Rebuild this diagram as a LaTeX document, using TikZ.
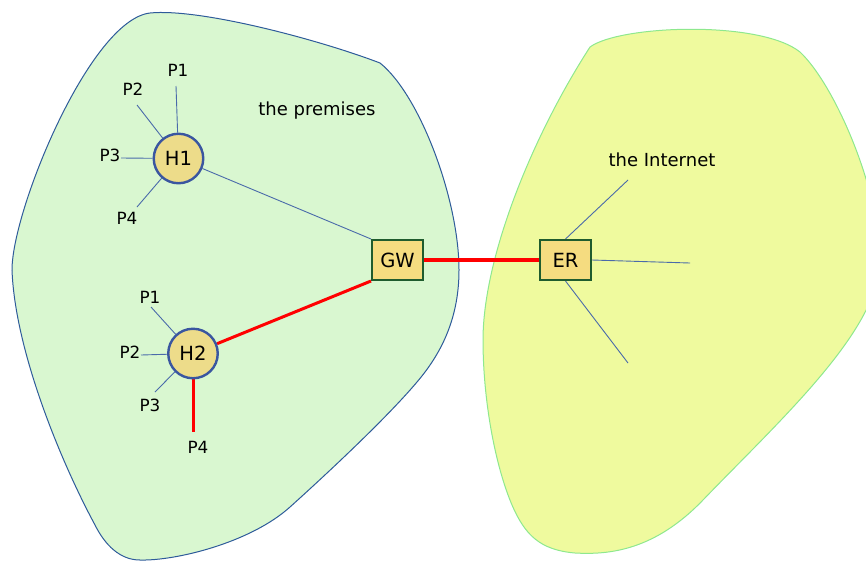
\documentclass[tikz,border=0pt]{standalone}
\usepackage{fontspec}
\setmainfont{DejaVu Sans}
\definecolor{premfill}{HTML}{D9F7D0}
\definecolor{premline}{HTML}{2E5B9A}
\definecolor{netfill}{HTML}{EFFA9E}
\definecolor{netline}{HTML}{8EE88E}
\definecolor{hostfill}{HTML}{EDDC8A}
\definecolor{hostline}{HTML}{3A56A0}
\definecolor{boxfill}{HTML}{F5DC80}
\definecolor{boxline}{HTML}{1F5C2E}
\definecolor{thin}{HTML}{4A6AAA}
\pgfdeclarelayer{blobs}
\pgfdeclarelayer{edges}
\pgfsetlayers{blobs,edges,main}
\tikzset{
  host/.style={circle, draw=hostline, line width=2.4pt, fill=hostfill, minimum size=49.5pt, inner sep=0pt, font=\fontsize{19.5}{22}\selectfont},
  router/.style={rectangle, draw=boxline, line width=2pt, fill=boxfill, minimum width=51pt, minimum height=40pt, inner sep=0pt, font=\fontsize{19.5}{22}\selectfont},
  plabel/.style={inner sep=0pt, font=\fontsize{16.8}{19}\selectfont},
  area/.style={inner sep=0pt, font=\fontsize{18}{21}\selectfont},
  thinline/.style={draw=thin, line width=0.9pt},
  redline/.style={draw=red, line width=3pt},
}
\begin{document}
\begin{tikzpicture}[x=1pt,y=-1pt]
\useasboundingbox (0,0) rectangle (866,560);
\begin{pgfonlayer}{blobs}
% premises blob
\filldraw[fill=premfill, draw=premline, line width=1pt]
  (12,270) .. controls (12,210) and (90,20) .. (150,13)
  .. controls (200,8) and (320,40) .. (380,63)
  .. controls (420,95) and (459,200) .. (459,270)
  .. controls (459,320) and (440,355) .. (417,382)
  .. controls (385,420) and (320,480) .. (290,507)
  .. controls (250,543) and (175,561) .. (140,560)
  .. controls (120,560) and (105,545) .. (95,525)
  .. controls (60,460) and (15,350) .. (12,270) -- cycle;
% internet blob
\filldraw[fill=netfill, draw=netline, line width=1pt]
  (590,47) .. controls (620,25) and (760,20) .. (800,52)
  .. controls (835,85) and (880,190) .. (880,260)
  .. controls (880,330) and (780,420) .. (703,500)
  .. controls (655,550) and (610,555) .. (575,553)
  .. controls (540,550) and (525,535) .. (512,505)
  .. controls (495,465) and (483,400) .. (483,340)
  .. controls (483,260) and (530,140) .. (590,47) -- cycle;
\end{pgfonlayer}
% nodes
\node[host] (h1) at (178.5,158.5) {H1};
\node[host] (h2) at (193,353.5) {H2};
\node[router] (gw) at (397.5,260) {GW};
\node[router] (er) at (565.5,260) {ER};
\node[area] (prem) at (317,111) {the premises};
\node[area] (inet) at (662,160) {the Internet};
% H1 ports
\node[plabel] (h1p1l) at (178,70) {P1};
\node[plabel] (h1p2l) at (133,89) {P2};
\node[plabel] (h1p3l) at (110,155) {P3};
\node[plabel] (h1p4l) at (127,218) {P4};
\coordinate (h1p1) at (176,86);
\coordinate (h1p2) at (137,105);
\coordinate (h1p3) at (121,158);
\coordinate (h1p4) at (137,207);
% H2 ports
\node[plabel] (h2p1l) at (150,297) {P1};
\node[plabel] (h2p2l) at (130,352) {P2};
\node[plabel] (h2p3l) at (150,405) {P3};
\node[plabel] (h2p4l) at (198,447) {P4};
\coordinate (h2p1) at (151,307);
\coordinate (h2p2) at (141,355);
\coordinate (h2p3) at (155,392);
\coordinate (h2p4) at (193,432);
% ER free ends
\coordinate (e1) at (628,180);
\coordinate (e2) at (690,263);
\coordinate (e3) at (628,363);
% connectors
\begin{pgfonlayer}{edges}
\draw[thinline] (h1) -- (h1p1);
\draw[thinline] (h1) -- (h1p2);
\draw[thinline] (h1) -- (h1p3);
\draw[thinline] (h1) -- (h1p4);
\draw[thinline] (h1) -- (gw.north west);
\draw[thinline] (h2) -- (h2p1);
\draw[thinline] (h2) -- (h2p2);
\draw[thinline] (h2) -- (h2p3);
\draw[redline] (h2) -- (h2p4);
\draw[redline] (h2) -- (gw.south west);
\draw[draw=red, line width=4pt] (gw.east) -- (er.west);
\draw[thinline] (er.north) -- (e1);
\draw[thinline] (er.east) -- (e2);
\draw[thinline] (er.south) -- (e3);
\end{pgfonlayer}
\end{tikzpicture}
\end{document}
